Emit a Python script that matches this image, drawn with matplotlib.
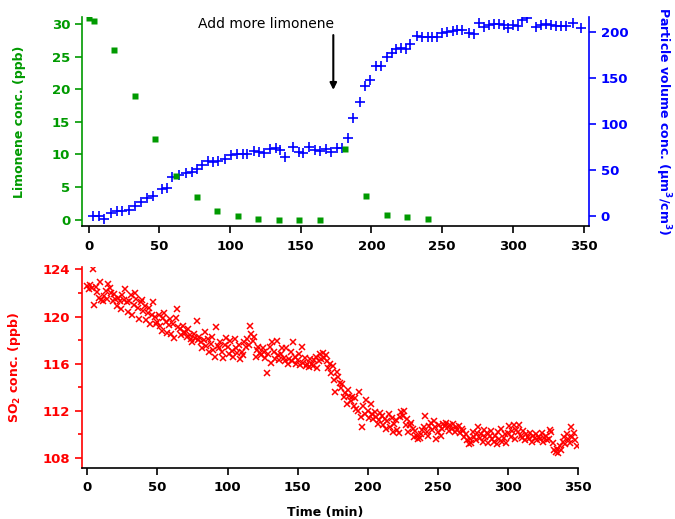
import numpy as np
import matplotlib
matplotlib.use("Agg")
import matplotlib.pyplot as plt

# -------------------------------
# Data
# -------------------------------
# limonene (ppb), sampled every ~15 min
limo_time = [0.0, 3.7, 18.2, 32.6, 47.0, 61.6, 76.3, 90.7, 105.3, 119.8,
             134.4, 148.8, 163.4, 181.6, 196.3, 210.9, 225.4, 240.0]
limo_conc = [30.9, 30.5, 26.0, 19.0, 12.3, 6.75, 3.5, 1.3, 0.57, 0.1,
             0.0, 0.0, 0.0, 10.9, 3.6, 0.77, 0.41, 0.05]

# particle volume (um3/cm3)
pv_time = [3.0, 7.1, 10.6, 16.0, 20.1, 23.6, 28.3, 33.0, 37.3, 41.3,
           45.6, 52.0, 55.5, 59.0, 64.2, 69.0, 73.2, 76.8, 80.3, 84.5,
           87.6, 91.8, 96.1, 100.9, 104.9, 108.9, 112.0, 116.7, 120.2, 123.7,
           128.5, 132.5, 135.6, 139.1, 144.3, 148.5, 151.4, 156.1, 159.9, 163.9,
           168.0, 171.7, 175.8, 179.3, 183.3, 187.1, 191.6, 195.1, 198.9, 203.4,
           206.9, 211.2, 214.2, 217.6, 221.1, 224.2, 227.2, 232.0, 236.0, 240.0,
           243.1, 246.6, 250.2, 253.7, 257.3, 260.8, 264.3, 269.0, 272.6, 276.1,
           279.7, 283.2, 286.7, 290.3, 293.8, 296.2, 299.8, 303.3, 306.4, 309.9,
           316.3, 319.8, 323.4, 326.9, 330.5, 334.0, 337.6, 342.3, 348.2]
pv_conc = [0.0, 0.0, -4.0, 3.3, 5.1, 5.1, 6.2, 10.9, 14.6, 19.0,
           21.8, 29.1, 29.9, 41.9, 44.4, 46.9, 47.3, 50.6, 55.3, 60.0,
           58.9, 60.0, 62.2, 66.2, 67.3, 67.3, 67.3, 70.9, 69.1, 68.0,
           72.7, 73.5, 71.6, 64.3, 74.6, 69.8, 68.0, 75.2, 71.6, 70.9,
           72.7, 69.8, 73.5, 73.5, 85.0, 106.9, 123.7, 141.4, 148.0, 163.2,
           163.2, 173.4, 177.1, 181.5, 182.5, 181.5, 186.9, 196.0, 195.2, 194.6,
           194.6, 195.2, 198.9, 200.7, 201.7, 202.5, 202.5, 199.6, 198.1, 209.8,
           206.1, 208.0, 209.0, 209.0, 208.0, 204.3, 208.0, 207.2, 213.4, 215.2,
           205.4, 208.0, 209.0, 208.0, 207.2, 207.2, 207.2, 210.6, 204.3]

# SO2 (ppb), one reading per minute
so2_conc = [
    122.6, 122.3, 122.7, 122.4, 124.0, 121.0, 122.5, 122.1, 121.6, 122.9,
    121.4, 121.3, 121.7, 122.2, 121.5, 122.8, 122.4, 122.0, 121.3, 121.9,
    121.5, 120.9, 121.6, 121.3, 120.6, 121.8, 121.4, 122.3, 121.2, 120.4,
    121.3, 121.8, 120.1, 121.0, 122.0, 121.5, 120.7, 119.8, 121.2, 121.4,
    120.5, 120.9, 119.7, 120.3, 120.7, 119.4, 120.1, 121.2, 120.0, 119.4,
    119.5, 120.1, 119.2, 118.8, 119.9, 120.3, 119.5, 118.6, 119.3, 119.8,
    118.5, 119.4, 118.2, 119.9, 120.6, 119.1, 118.9, 118.4, 119.2, 118.7,
    118.6, 118.3, 118.9, 118.4, 118.1, 117.8, 118.5, 118.2, 119.6, 118.0,
    118.3, 117.8, 117.3, 118.0, 118.7, 117.5, 118.1, 117.0, 117.7, 118.3,
    117.2, 116.6, 119.1, 117.5, 117.3, 117.8, 117.0, 116.5, 117.6, 118.2,
    117.4, 116.8, 117.9, 117.1, 116.6, 118.1, 117.3, 116.9, 117.6, 116.4,
    117.0, 116.7, 117.8, 117.4, 118.1, 117.6, 119.2, 118.5, 117.9, 118.3,
    116.6, 117.2, 117.4, 116.9, 116.7, 117.3, 117.0, 116.5, 115.2, 116.8,
    117.4, 116.1, 117.8, 117.0, 116.4, 117.9, 116.7, 116.3, 116.8, 117.3,
    116.5, 116.2, 117.3, 116.0, 116.4, 117.0, 116.2, 117.8, 116.6, 116.0,
    116.3, 116.8, 115.9, 117.4, 116.1, 116.5, 115.8, 116.0, 115.7, 116.4,
    116.0, 115.8, 116.3, 116.6, 115.6, 116.2, 116.8, 116.4, 116.9, 116.5,
    116.7, 116.2, 115.6, 116.0, 115.2, 115.8, 114.6, 113.6, 115.3, 114.9,
    114.4, 113.9, 114.3, 113.2, 113.5, 112.6, 113.8, 113.3, 112.8, 113.2,
    112.4, 113.1, 112.2, 112.0, 113.6, 111.5, 110.6, 112.4, 111.7, 112.9,
    112.0, 111.4, 112.6, 111.7, 111.3, 111.9, 111.5, 110.9, 111.2, 111.8,
    111.6, 110.8, 111.3, 110.5, 111.1, 111.7, 110.6, 111.4, 110.2, 110.9,
    111.2, 110.4, 110.1, 111.5, 111.9, 111.6, 112.0, 110.8, 111.3, 110.2,
    110.8, 111.0, 110.5, 109.8, 110.3, 109.9, 109.6, 109.7, 110.0, 110.4,
    110.6, 111.6, 110.2, 109.9, 110.7, 111.0, 110.4, 111.1, 110.6, 109.6,
    110.2, 110.8, 109.9, 110.5, 110.9, 110.7, 111.0, 110.6, 110.3, 110.8,
    110.5, 110.9, 110.2, 110.6, 110.4, 110.7, 110.1, 110.5, 110.3, 109.8,
    110.0, 109.5, 109.2, 109.6, 109.3, 110.2, 109.8, 109.5, 110.1, 110.6,
    109.7, 110.0, 109.4, 110.4, 109.8, 110.1, 109.3, 109.9, 110.3, 109.6,
    109.4, 109.9, 109.2, 110.2, 109.6, 110.5, 109.4, 109.7, 110.0, 109.3,
    110.1, 110.7, 109.8, 110.3, 110.8, 109.6, 110.4, 110.2, 110.8, 109.9,
    109.7, 110.3, 109.5, 110.0, 109.8, 109.6, 110.1, 109.4, 109.9, 109.7,
    110.0, 109.5, 109.8, 109.6, 110.1, 109.4, 109.7, 109.9, 109.5, 109.6,
    110.4, 110.2, 109.3, 108.7, 108.5, 108.8, 108.4, 109.0, 108.7, 109.4,
    109.8, 109.2, 110.0, 109.6, 109.3, 110.6, 109.8, 110.1, 109.5, 109.0,
]
so2_time = np.arange(len(so2_conc))

GREEN = "#009a00"
BLUE = "#0000ff"
RED = "#ff0000"

plt.rcParams["font.family"] = "DejaVu Sans"
plt.rcParams["font.weight"] = "bold"
plt.rcParams["mathtext.default"] = "bf"

fig = plt.figure(figsize=(6.75, 5.19), dpi=100)

# -------------------------------
# Top panel: limonene + particle volume
# -------------------------------
ax1 = fig.add_axes([82 / 675, 1 - 226 / 519, 507 / 675, 209 / 519])
ax2 = ax1.twinx()

ax1.plot(limo_time, limo_conc, "s", color=GREEN, ms=4.5, mec="none", zorder=3)
ax2.plot(pv_time, pv_conc, "+", color=BLUE, ms=6.5, mew=1.2)
ax1.set_zorder(2)
ax1.patch.set_visible(False)

ax1.set_xlim(-4.7, 353.8)
ax1.set_ylim(-0.97, 31.07)
ax2.set_ylim(-11.2, 216.7)
ax1.set_xticks(np.arange(0, 351, 50))
ax1.set_yticks(np.arange(0, 31, 5))
ax2.set_yticks(np.arange(0, 201, 50))

for s in ["top", "right"]:
    ax1.spines[s].set_visible(False)
for s in ["top", "left", "bottom"]:
    ax2.spines[s].set_visible(False)
ax1.spines["left"].set_color(GREEN)
ax2.spines["right"].set_color(BLUE)
for sp in list(ax1.spines.values()) + list(ax2.spines.values()):
    sp.set_linewidth(1.2)

ax1.tick_params(axis="y", colors=GREEN, labelsize=9.5, length=5, width=1.2)
ax1.tick_params(axis="x", colors="black", labelsize=9.5, length=5, width=1.2, pad=5)
ax2.tick_params(axis="y", colors=BLUE, labelsize=9.5, length=5, width=1.2)

ax1.set_ylabel("Limonene conc. (ppb)", color=GREEN, fontsize=9, fontweight="bold")
ax1.yaxis.set_label_coords(-0.110, 0.5)
ax2.set_ylabel(r"Particle volume conc. ($\mu$m$^{3}$/cm$^{3}$)", color=BLUE,
               fontsize=9, fontweight="bold", rotation=-90, va="center")
ax2.yaxis.set_label_coords(1.146, 0.5)

# arrow marking the second limonene injection
ax1.annotate("", xy=(173, 19.9), xytext=(173, 28.3),
             arrowprops=dict(arrowstyle="-|>", color="black", lw=1.5,
                             mutation_scale=10, shrinkA=0, shrinkB=0))
ax1.text(125.7, 30.0, "Add more limonene", ha="center", va="center",
         fontsize=10, fontweight="normal", color="black")

# -------------------------------
# Bottom panel: SO2
# -------------------------------
ax3 = fig.add_axes([81.7 / 675, 1 - 467.7 / 519, 496.3 / 675, 200.7 / 519])
ax3.plot(so2_time, so2_conc, "x", color=RED, ms=4.5, mew=1.1)

ax3.set_xlim(-4, 350)
ax3.set_ylim(107.18, 124.2)
ax3.set_xticks(np.arange(0, 351, 50))
ax3.set_yticks(np.arange(108, 125, 4))
ax3.set_yticks(np.arange(110, 125, 4), minor=True)

for s in ["top", "right"]:
    ax3.spines[s].set_visible(False)
ax3.spines["left"].set_color(RED)
for sp in ax3.spines.values():
    sp.set_linewidth(1.2)

ax3.tick_params(axis="y", which="both", colors=RED, labelsize=9.5, width=1.2)
ax3.tick_params(axis="y", which="major", length=5)
ax3.tick_params(axis="y", which="minor", length=3)
ax3.tick_params(axis="x", colors="black", labelsize=9.5, length=5, width=1.2, pad=4.5)

ax3.set_ylabel(r"SO$_{2}$ conc. (ppb)", color=RED, fontsize=9, fontweight="bold")
ax3.yaxis.set_label_coords(-0.118, 0.5)
ax3.set_xlabel("Time (min)", fontsize=9, fontweight="bold", va="center")
ax3.xaxis.set_label_coords(0.49, -0.221)

plt.savefig("out.png", dpi=100)
